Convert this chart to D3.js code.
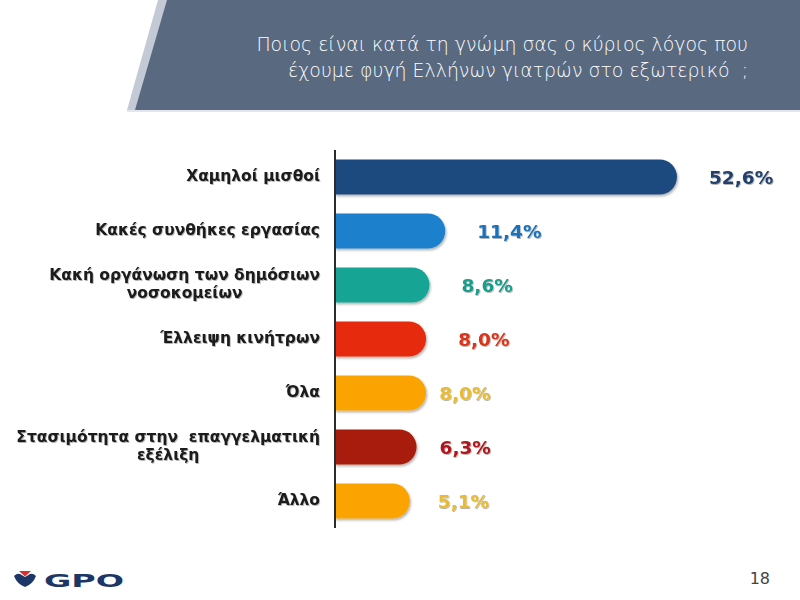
<!DOCTYPE html>
<html><head><meta charset="utf-8">
<script src="https://cdn.jsdelivr.net/npm/d3@7/dist/d3.min.js"></script>
<style>
html,body{margin:0;padding:0;background:#fff;}
svg{display:block;}
text{white-space:pre;}
</style></head>
<body>
<svg id="chart" width="800" height="600"></svg>
<script>
const titleLines = ["Ποιος είναι κατά τη γνώμη σας ο κύριος λόγος που", "έχουμε φυγή Ελλήνων γιατρών στο εξωτερικό  ;"];
const categories = [
  ["Χαμηλοί μισθοί"],
  ["Κακές συνθήκες εργασίας"],
  ["Κακή οργάνωση των δημόσιων", "νοσοκομείων"],
  ["Έλλειψη κινήτρων"],
  ["Όλα"],
  ["Στασιμότητα στην  επαγγελματική", "εξέλιξη"],
  ["Άλλο"]
];
const values = [52.6, 11.4, 8.6, 8.0, 8.0, 6.3, 5.1];
const valueLabels = ["52,6%", "11,4%", "8,6%", "8,0%", "8,0%", "6,3%", "5,1%"];
const barColors = ["#1f4a7e", "#1a80cc", "#12a594", "#e52b07", "#fba300", "#a81e0b", "#fba300"];
const labelColors = ["#233f6c", "#1a72b8", "#1a9c8b", "#d8361a", "#e8bb32", "#b0141a", "#e8bb32"];
const labelGaps = [32, 32, 32, 32, 13, 23, 28];
const pageNumber = "18";

const svg = d3.select("#chart");
const defs = svg.append("defs");
const f = defs.append("filter").attr("id", "shadow").attr("x", "-10%").attr("y", "-30%").attr("width", "130%").attr("height", "170%");
f.append("feDropShadow").attr("dx", 1.2).attr("dy", 1.8).attr("stdDeviation", 1.2).attr("flood-color", "#000").attr("flood-opacity", 0.3);
const ft = defs.append("filter").attr("id", "tshadow").attr("x", "-10%").attr("y", "-30%").attr("width", "130%").attr("height", "170%");
ft.append("feDropShadow").attr("dx", 0.8).attr("dy", 1).attr("stdDeviation", 0.7).attr("flood-color", "#000").attr("flood-opacity", 0.3);

// Header banner
svg.append("path").attr("d", "M158,0 L800,0 L800,110 L127,110 Z").attr("fill", "#c3cad6");
svg.append("path").attr("d", "M167,0 L800,0 L800,110 L135,110 Z").attr("fill", "#586980");
svg.append("rect").attr("x", 127).attr("y", 110).attr("width", 673).attr("height", 2).attr("fill", "#e3e6ec");

const title = svg.append("text").attr("text-anchor", "end").attr("fill", "#fff")
  .style("font-family", "'DejaVu Sans', sans-serif").style("font-weight", 200).style("font-size", "18.9px");
titleLines.forEach((t, i) => {
  title.append("tspan").attr("x", 748).attr("y", 51 + i * 26).text(t);
});

// Scales
const x = d3.scaleLinear().domain([-8.2, 52.6]).range([335, 677]);
const y = d3.scaleBand().domain(d3.range(values.length)).range([150, 528]).paddingInner(0.35).paddingOuter(0.175);

const x0 = 335;
const g = svg.append("g");
g.selectAll("path.bar").data(values).join("path").attr("class", "bar")
  .attr("fill", (d, i) => barColors[i])
  .attr("filter", "url(#shadow)")
  .attr("d", (d, i) => {
    const top = y(i), h = y.bandwidth(), r = h / 2, xe = x(d);
    return `M${x0},${top} L${xe - r},${top} A${r},${r} 0 0 1 ${xe - r},${top + h} L${x0},${top + h} Z`;
  });

// axis line
svg.append("line").attr("x1", x0).attr("x2", x0).attr("y1", 150).attr("y2", 528)
  .attr("stroke", "#2b2b2b").attr("stroke-width", 2);

// value labels
g.selectAll("text.val").data(values).join("text").attr("class", "val")
  .attr("x", (d, i) => x(d) + labelGaps[i])
  .attr("y", (d, i) => y(i) + y.bandwidth() / 2)
  .attr("dy", "0.36em")
  .attr("fill", (d, i) => labelColors[i])
  .attr("filter", "url(#tshadow)")
  .style("font-family", "'DejaVu Sans', sans-serif").style("font-weight", "bold").style("font-size", "18.5px")
  .text((d, i) => valueLabels[i]);

// category labels
categories.forEach((lines, i) => {
  const t = svg.append("text").attr("fill", "#1a1a1a").attr("text-anchor", "middle")
    .attr("filter", "url(#tshadow)")
    .style("font-family", "'DejaVu Sans', sans-serif").style("font-weight", "bold").style("font-size", "15.5px");
  const cy = y(i) + y.bandwidth() / 2;
  const lh = 18;
  const spans = lines.map((l, j) => t.append("tspan").attr("y", cy - (lines.length - 1) * lh / 2 + j * lh - 2).attr("dy", "0.36em").text(l));
  let maxW = 0;
  spans.forEach(s => { maxW = Math.max(maxW, s.node().getComputedTextLength()); });
  const cx = 320 - maxW / 2;
  spans.forEach(s => s.attr("x", cx));
});

// GPO logo
const logo = svg.append("g");
logo.append("path").attr("d", "M14,576 Q17,573 20,574 L25,577 L30,574 Q33,573 36,576 Q33,584 25,587 Q17,584 14,576 Z").attr("fill", "#1c3766");
logo.append("path").attr("d", "M19,571 L31,571 L25,576.5 Z").attr("fill", "#e02d2d");
logo.append("text").attr("x", 44).attr("y", 587).attr("fill", "#1c3766")
  .style("font-family", "'DejaVu Sans', sans-serif").style("font-weight", "bold").style("font-size", "18px")
  .attr("textLength", 80).attr("lengthAdjust", "spacingAndGlyphs").text("GPO");

// page number
svg.append("text").attr("x", 770).attr("y", 584).attr("text-anchor", "end").attr("fill", "#444")
  .style("font-family", "'DejaVu Sans', sans-serif").style("font-size", "16px").text(pageNumber);
</script>
</body></html>
